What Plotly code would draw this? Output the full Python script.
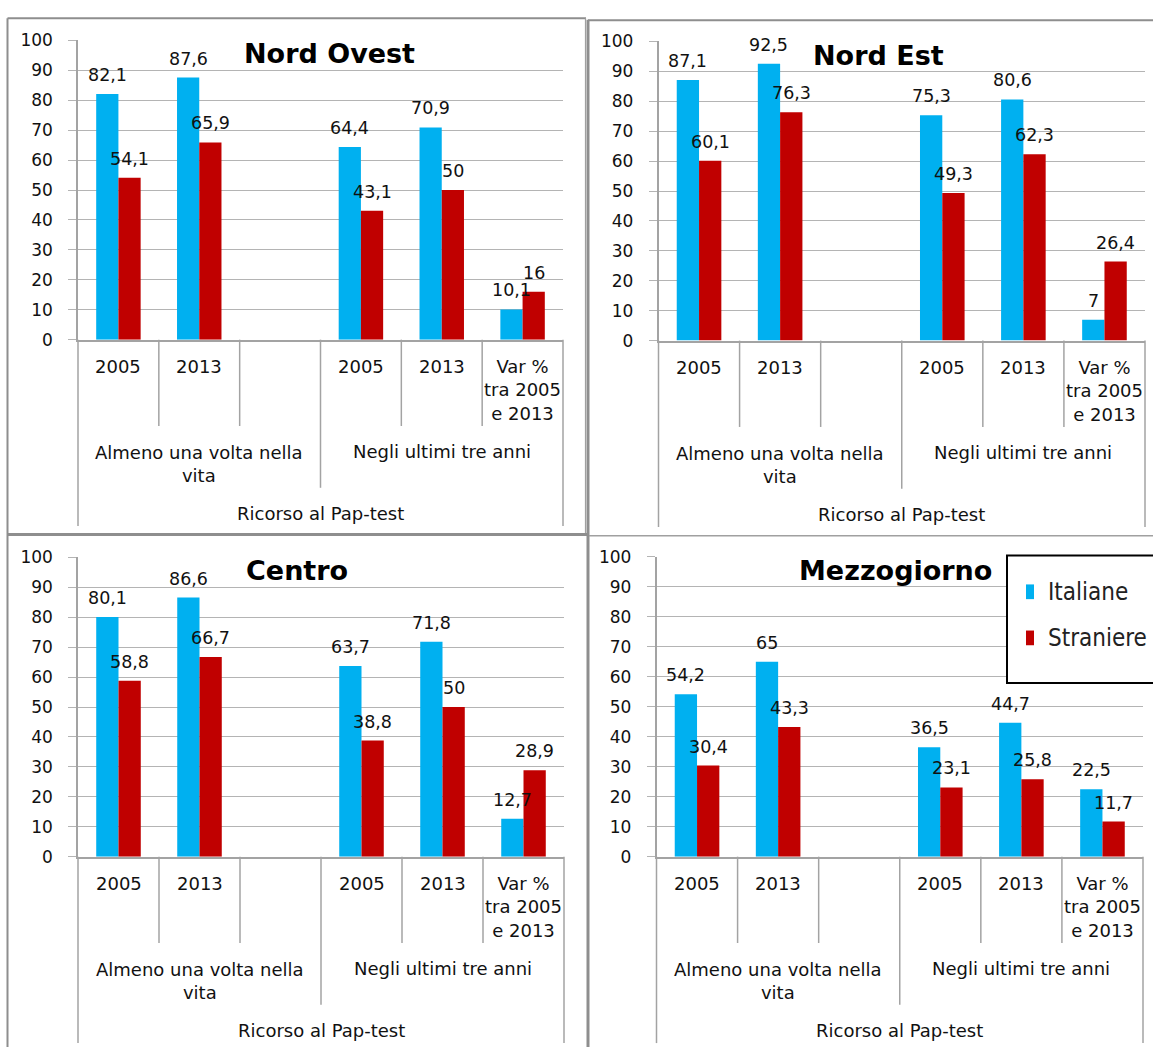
import plotly.graph_objects as go

# ---------------- data ----------------
categories = ["2005", "2013", "", "2005", "2013", "Var %<br>tra 2005<br>e 2013"]
groups = ["Almeno una volta nella<br>vita", "Negli ultimi tre anni"]
group_of_category = [0, 0, 0, 1, 1, 1]
axis_title = "Ricorso al Pap-test"

series_names = ["Italiane", "Straniere"]
series_colors = ["#00B0F0", "#C00000"]

regions = ["Nord Ovest", "Nord Est", "Centro", "Mezzogiorno"]

nord_ovest_italiane = [82.1, 87.6, None, 64.4, 70.9, 10.1]
nord_ovest_straniere = [54.1, 65.9, None, 43.1, 50, 16]
nord_est_italiane = [87.1, 92.5, None, 75.3, 80.6, 7]
nord_est_straniere = [60.1, 76.3, None, 49.3, 62.3, 26.4]
centro_italiane = [80.1, 86.6, None, 63.7, 71.8, 12.7]
centro_straniere = [58.8, 66.7, None, 38.8, 50, 28.9]
mezzogiorno_italiane = [54.2, 65, None, 36.5, 44.7, 22.5]
mezzogiorno_straniere = [30.4, 43.3, None, 23.1, 25.8, 11.7]

region_values = [
    (nord_ovest_italiane, nord_ovest_straniere),
    (nord_est_italiane, nord_est_straniere),
    (centro_italiane, centro_straniere),
    (mezzogiorno_italiane, mezzogiorno_straniere),
]

# ---------------- geometry (pixels) ----------------
W, H = 1153, 1057
# plot areas: left, right, top (value 100), bottom (value 0)
boxes = [
    (78, 563, 31, 336),
    (658.5, 1145, 32, 337),
    (78, 564, 558, 863),
    (656.5, 1143, 557.5, 863),
]
title_pos = [(329, 44), (878, 46), (297, 571), (895, 571)]

BARGAP = 0.45
FONT = "DejaVu Sans"
TEXT = "#111111"
GRID = "#b4b4b4"
AXIS = "#a3a3a3"
FRAME = "#8e8e8e"


def px(x):
    return x / W


def py(y):
    return 1 - y / H


def fmt(v):
    return f"{v:g}".replace(".", ",")


cat_keys = [f"{groups[g]} / {c}" for g, c in zip(group_of_category, categories)]
n_cat = len(categories)

fig = go.Figure()
annotations = []
shapes = []
layout = {}

for i, (region, (ita, stra)) in enumerate(zip(regions, region_values)):
    n = i + 1
    xa = "x" if n == 1 else f"x{n}"
    ya = "y" if n == 1 else f"y{n}"
    L, R, T, B = boxes[i]
    cw = (R - L) / n_cat

    for s, vals in enumerate((ita, stra)):
        fig.add_trace(go.Bar(
            x=cat_keys, y=vals, name=series_names[s],
            marker=dict(color=series_colors[s], line=dict(width=0)),
            showlegend=False, xaxis=xa, yaxis=ya,
        ))
        # value labels above each bar
        off = (1 - BARGAP) / 4 * (-1 if s == 0 else 1)
        for k, v in enumerate(vals):
            if v is None:
                continue
            annotations.append(dict(
                x=k + off, y=v, xref=xa, yref=ya, text=fmt(v),
                showarrow=False, yshift=19, yanchor="middle",
                font=dict(family=FONT, size=17.5, color=TEXT),
            ))

    layout["xaxis" if n == 1 else f"xaxis{n}"] = dict(
        domain=[px(L), px(R)], anchor=ya, type="category",
        categoryorder="array", categoryarray=cat_keys,
        range=[-0.5, n_cat - 0.5], showticklabels=False, showgrid=False,
        zeroline=False, showline=True, linecolor=AXIS, linewidth=1.5,
        ticks="", fixedrange=True,
    )
    layout["yaxis" if n == 1 else f"yaxis{n}"] = dict(
        domain=[py(B), py(T)], anchor=xa, range=[0, 100], dtick=10,
        showgrid=True, gridcolor=GRID, gridwidth=1.3, zeroline=False,
        showline=True, linecolor=AXIS, linewidth=1.5,
        ticks="outside", ticklen=8, tickcolor=GRID, tickwidth=1.3,
        ticklabelstandoff=12,
        tickfont=dict(family=FONT, size=17, color=TEXT), fixedrange=True,
    )

    # region title
    tx, ty = title_pos[i]
    annotations.append(dict(
        x=px(tx), y=py(ty), xref="paper", yref="paper", text=region,
        showarrow=False, xanchor="center", yanchor="middle",
        font=dict(family=FONT, size=27, color="#000", weight="bold"),
    ))

    # category labels
    for k, c in enumerate(categories):
        if not c:
            continue
        lines = c.count("<br>") + 1
        annotations.append(dict(
            x=px(L + (k + 0.5) * cw), y=py(B + 27 + (lines - 1) * 12),
            xref="paper", yref="paper", text=c, showarrow=False,
            xanchor="center", yanchor="middle",
            font=dict(family=FONT, size=18, color=TEXT),
        ))
    # group labels
    for g, gname in enumerate(groups):
        ks = [k for k, gg in enumerate(group_of_category) if gg == g]
        cx = L + (min(ks) + max(ks) + 1) / 2 * cw
        lines = gname.count("<br>") + 1
        annotations.append(dict(
            x=px(cx), y=py(B + 114 + (lines - 1) * 12.3),
            xref="paper", yref="paper", text=gname, showarrow=False,
            xanchor="center", yanchor="middle",
            font=dict(family=FONT, size=18, color=TEXT),
        ))
    annotations.append(dict(
        x=px((L + R) / 2), y=py(B + 177), xref="paper", yref="paper",
        text=axis_title, showarrow=False, xanchor="center", yanchor="middle",
        font=dict(family=FONT, size=18, color=TEXT),
    ))

    # category dividers below the axis
    group_edges = {0, n_cat}
    for k in range(1, n_cat):
        if group_of_category[k] != group_of_category[k - 1]:
            group_edges.add(k)
    for k in range(n_cat + 1):
        if k in (0, n_cat):
            depth = 190
        elif k in group_edges:
            depth = 151
        else:
            depth = 88
        xk = px(L + k * cw)
        shapes.append(dict(
            type="line", xref="paper", yref="paper", x0=xk, x1=xk,
            y0=py(B), y1=py(B + depth), line=dict(color=AXIS, width=1.5),
        ))

# panel frames
def hline(x0, x1, y, w, c=FRAME):
    shapes.append(dict(type="line", xref="paper", yref="paper",
                       x0=px(x0), x1=px(x1), y0=py(y), y1=py(y),
                       line=dict(color=c, width=w)))


def vline(x, y0, y1, w, c=FRAME):
    shapes.append(dict(type="line", xref="paper", yref="paper",
                       x0=px(x), x1=px(x), y0=py(y0), y1=py(y1),
                       line=dict(color=c, width=w)))


hline(7.5, 586, 8.5, 2)
vline(7.5, 8.5, 1057, 2)
vline(585.5, 8.5, 534, 1.2, "#a0a0a0")
vline(588, 10, 1057, 3)
hline(588, 1153, 10.5, 2)
hline(7.5, 589, 534.5, 3)
hline(589, 1153, 536, 1.5, "#a0a0a0")

# legend box
shapes.append(dict(type="rect", xref="paper", yref="paper",
                   x0=px(1007), x1=px(1162), y0=py(556), y1=py(686),
                   fillcolor="white", line=dict(color="#000", width=2)))
legend_rows = [593, 640]
for s, name in enumerate(series_names):
    yc = legend_rows[s]
    shapes.append(dict(type="rect", xref="paper", yref="paper",
                       x0=px(1026), x1=px(1034), y0=py(yc - 7.5), y1=py(yc + 7.5),
                       fillcolor=series_colors[s], line=dict(width=0)))
    annotations.append(dict(
        x=px(1046), y=py(yc), xref="paper", yref="paper", text=name,
        showarrow=False, xanchor="left", yanchor="middle",
        font=dict(family="DejaVu Sans Condensed, Liberation Sans Narrow, DejaVu Sans",
                  size=24, color="#222"),
    ))

fig.update_layout(
    width=W, height=H, margin=dict(l=0, r=0, t=0, b=0),
    paper_bgcolor="white", plot_bgcolor="white",
    barmode="group", bargap=BARGAP, bargroupgap=0,
    showlegend=False, annotations=annotations, shapes=shapes,
    **layout,
)

fig.write_html("out.html", config={"displayModeBar": False})
